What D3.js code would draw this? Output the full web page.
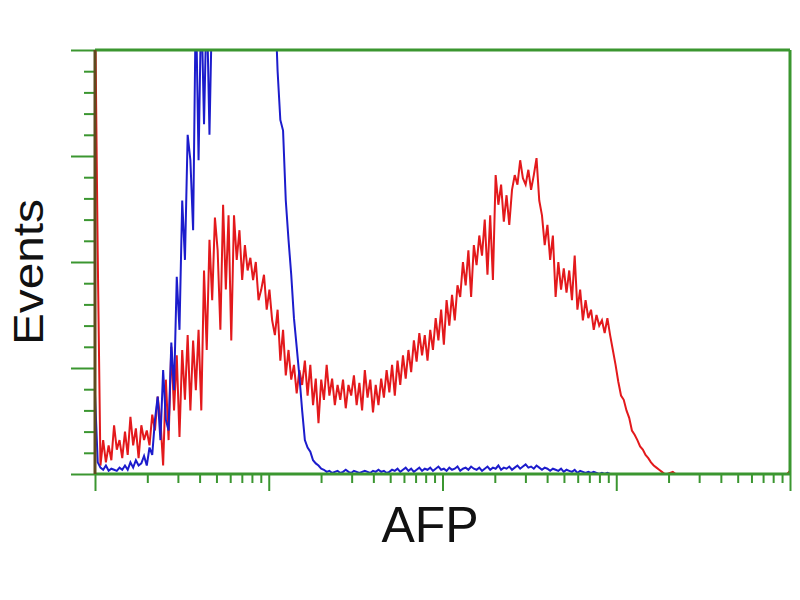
<!DOCTYPE html>
<html>
<head>
<meta charset="utf-8">
<script src="https://cdn.jsdelivr.net/npm/d3@7"></script>
<style>
  body { margin: 0; background: #fff; }
  svg { display: block; }
</style>
</head>
<body>
<div id="chart"></div>
<script>
// histogram channels (0..255), log display 10^0 .. 10^4
const xDecades = [1, 10, 100, 1000, 10000];
const yMajor = [0, 100, 200, 300, 400];

// AFP stained (red)
const redCounts = [
  450, 207, 8, 32, 11, 27, 13, 46, 23, 32,
  15, 40, 18, 54, 27, 43, 15, 46, 32, 41,
  27, 56, 41, 73, 51, 8, 89, 32, 120, 60,
  112, 35, 117, 70, 131, 60, 126, 79, 136, 60,
  192, 117, 221, 164, 242, 211, 136, 254, 174, 244,
  126, 244, 202, 230, 183, 216, 192, 204, 183, 200,
  164, 174, 188, 155, 174, 145, 131, 155, 107, 136,
  93, 117, 89, 103, 76, 98, 84, 107, 74, 103,
  65, 90, 48, 89, 70, 103, 74, 90, 65, 84,
  70, 89, 62, 84, 74, 93, 65, 86, 60, 98,
  72, 89, 58, 84, 65, 90, 72, 98, 77, 103,
  74, 107, 84, 112, 90, 117, 96, 126, 106, 133,
  112, 131, 107, 136, 117, 147, 126, 155, 122, 164,
  140, 169, 145, 178, 167, 200, 178, 211, 167, 216,
  197, 225, 206, 240, 188, 244, 183, 282, 254, 273,
  238, 263, 235, 268, 282, 273, 296, 279, 273, 287,
  268, 282, 298, 258, 244, 216, 235, 202, 225, 167,
  200, 174, 194, 171, 192, 164, 206, 155, 174, 145,
  164, 147, 155, 136, 150, 140, 145, 133, 147, 131,
  117, 103, 87, 74, 70, 60, 53, 41, 37, 32,
  26, 23, 18, 15, 11, 8, 6, 4, 2, 0,
  0, 1, 2, 0, 0, 0, 0, 0, 0, 0,
  0, 0, 0, 0, 0, 0, 0, 0, 0, 0,
  0, 0, 0, 0, 0, 0, 0, 0, 0, 0,
  0, 0, 0, 0, 0, 0, 0, 0, 0, 0,
  0, 0, 0, 0, 0, 3
];

// isotype control (blue)
const blueCounts = [
  75, 11, 6, 4, 8, 3, 5, 4, 3, 6,
  4, 8, 4, 11, 6, 13, 8, 10, 17, 8,
  25, 18, 51, 73, 32, 98, 51, 41, 124, 79,
  186, 136, 258, 202, 320, 296, 230, 450, 296, 450,
  330, 450, 320, 450, 450, 450, 450, 450, 450, 450,
  450, 450, 450, 450, 450, 450, 450, 450, 450, 450,
  450, 450, 450, 450, 450, 450, 450, 380, 334, 324,
  258, 221, 188, 147, 120, 92, 60, 32, 25, 21,
  13, 10, 8, 5, 4, 2, 3, 1, 2, 3,
  1, 2, 4, 2, 1, 3, 2, 1, 2, 3,
  2, 1, 3, 2, 4, 2, 3, 1, 2, 4,
  3, 5, 2, 4, 6, 3, 5, 2, 4, 6,
  3, 5, 4, 6, 3, 5, 7, 4, 5, 3,
  6, 4, 5, 7, 3, 5, 6, 4, 7, 5,
  4, 6, 3, 5, 7, 4, 6, 5, 8, 4,
  6, 5, 7, 4, 6, 8, 5, 7, 9, 6,
  7, 5, 8, 6, 4, 6, 5, 3, 5, 4,
  3, 5, 2, 4, 3, 2, 4, 1, 3, 2,
  1, 2, 1, 2, 1, 0, 1, 0, 1, 0,
  0, 0, 0, 0, 0, 0, 0, 0, 0, 0,
  0, 0, 0, 0, 0, 0, 0, 0, 0, 0,
  0, 0, 0, 0, 0, 0, 0, 0, 0, 0,
  0, 0, 0, 0, 0, 0, 0, 0, 0, 0,
  0, 0, 0, 0, 0, 0, 0, 0, 0, 0,
  0, 0, 0, 0, 0, 0, 0, 0, 0, 0,
  0, 0, 0, 0, 0, 0
];

const width = 800;
const height = 600;
const plotLeft = 95, plotRight = 790, plotTop = 50, plotBottom = 474;
const axisColor = "#3b9630";

const svg = d3
  .select("#chart")
  .append("svg")
  .attr("width", width)
  .attr("height", height)
  .style("background", "#fff");

const chan = d3.scaleLinear().domain([0, 255]).range([plotLeft, plotRight]);
const xLog = d3.scaleLog().domain([1, 10000]).range([plotLeft, plotRight]);
const y = d3.scaleLinear().domain([0, 400]).range([plotBottom, plotTop]);

svg
  .append("defs")
  .append("clipPath")
  .attr("id", "plot")
  .append("rect")
  .attr("x", plotLeft)
  .attr("y", plotTop)
  .attr("width", plotRight - plotLeft)
  .attr("height", plotBottom - plotTop);

const line = d3
  .line()
  .x((d, i) => chan(i))
  .y((d) => y(d));

const traces = svg.append("g").attr("clip-path", "url(#plot)").attr("fill", "none");

traces
  .append("path")
  .attr("d", line(redCounts))
  .attr("stroke", "#e3191c")
  .attr("stroke-width", 2);

traces
  .append("path")
  .attr("d", line(blueCounts))
  .attr("stroke", "#1c1ccc")
  .attr("stroke-width", 2);

// minor tick values
const xMinor = [];
xDecades.slice(0, -1).forEach((d) => {
  for (let k = 2; k < 10; k++) xMinor.push(d * k);
});
const yMinor = d3.range(0, 401, 20).filter((v) => v % 100 != 0);

function styleAxis(g) {
  g.select(".domain").remove();
  g.selectAll(".tick line").attr("stroke", axisColor).attr("stroke-width", 2);
  g.selectAll(".tick text").remove();
}

svg
  .append("g")
  .attr("transform", `translate(0,${plotBottom})`)
  .call(d3.axisBottom(xLog).tickValues(xMinor).tickSize(9))
  .call(styleAxis);
svg
  .append("g")
  .attr("transform", `translate(0,${plotBottom})`)
  .call(d3.axisBottom(xLog).tickValues(xDecades).tickSize(17))
  .call(styleAxis);

svg
  .append("g")
  .attr("transform", `translate(${plotLeft},0)`)
  .call(d3.axisLeft(y).tickValues(yMinor).tickSize(11))
  .call(styleAxis);
svg
  .append("g")
  .attr("transform", `translate(${plotLeft},0)`)
  .call(d3.axisLeft(y).tickValues(yMajor).tickSize(24))
  .call(styleAxis);

// frame
const frame = svg.append("g").attr("fill", "none").attr("stroke-width", 3);
frame.append("line").attr("x1", plotLeft).attr("x2", plotRight).attr("y1", plotTop).attr("y2", plotTop).attr("stroke", axisColor);
frame.append("line").attr("x1", plotLeft).attr("x2", plotRight).attr("y1", plotBottom).attr("y2", plotBottom).attr("stroke", axisColor);
frame.append("line").attr("x1", plotRight).attr("x2", plotRight).attr("y1", plotTop).attr("y2", plotBottom).attr("stroke", axisColor);
frame.append("line").attr("x1", plotLeft).attr("x2", plotLeft).attr("y1", plotTop).attr("y2", plotBottom).attr("stroke", "#5e4a1e");

svg
  .append("text")
  .attr("transform", `translate(43,${(plotTop + plotBottom) / 2 + 10}) rotate(-90)`)
  .attr("text-anchor", "middle")
  .attr("font-family", "Arial, 'Liberation Sans', sans-serif")
  .attr("font-size", 42)
  .attr("textLength", 146)
  .attr("lengthAdjust", "spacingAndGlyphs")
  .attr("fill", "#111")
  .text("Events");

svg
  .append("text")
  .attr("x", 430)
  .attr("y", 542)
  .attr("text-anchor", "middle")
  .attr("font-family", "Arial, 'Liberation Sans', sans-serif")
  .attr("font-size", 50)
  .attr("fill", "#111")
  .text("AFP");
</script>
</body>
</html>
